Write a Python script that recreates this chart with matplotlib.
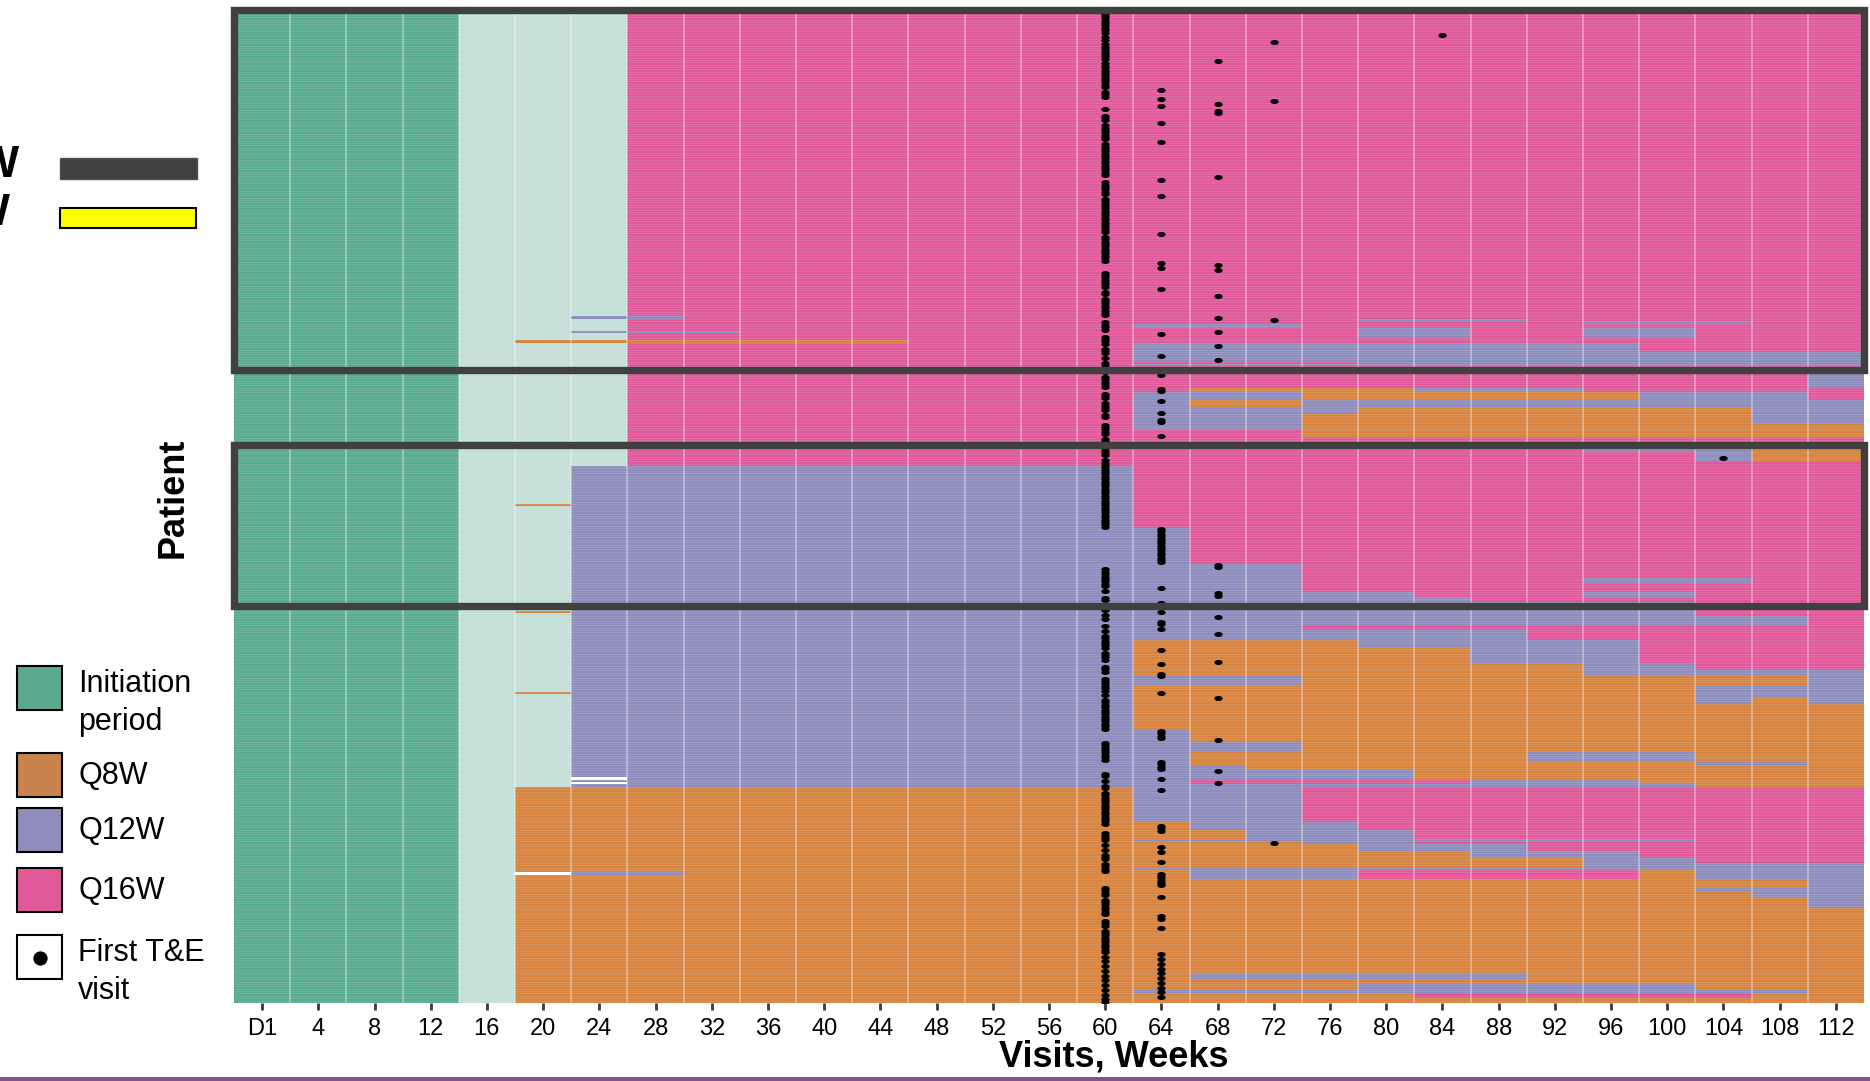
import numpy as np
import matplotlib.pyplot as plt
from matplotlib.colors import ListedColormap
from matplotlib.patches import Rectangle

plt.rcParams['font.family'] = ['Liberation Sans', 'DejaVu Sans']

week_labels = ['D1', '4', '8', '12', '16', '20', '24', '28', '32', '36', '40',
               '44', '48', '52', '56', '60', '64', '68', '72', '76', '80', '84',
               '88', '92', '96', '100', '104', '108', '112']

# I initiation, L loading, E Q8W, T Q12W, S Q16W, W no dose
code_of = {'I': 0, 'L': 1, 'E': 2, 'T': 3, 'S': 4, 'W': 5}
colors = ['#5AAB91', '#C3DFD7', '#D6843F', '#8D8DBD', '#E05A9B', '#FFFFFF']

# visits D1..wk60 by interval assigned at week 60
before = {'S': 'IIIILLLSSSSSSSSS',
          'T': 'IIIILLTTTTTTTTTT',
          'E': 'IIIILEEEEEEEEEEE'}

# patients per block and intervals from week 64 to 112
q16_n = [130, 1, 1, 2, 4, 2, 4, 4, 1, 1, 3, 6, 2, 3, 3, 3, 4, 3, 3, 2, 1, 3, 4, 2]
q16_after = ['SSSSSSSSSSSSS', 'SSSSTTTSSSSSS', 'SSSSSSSSTTTSS', 'TTTSSSSSSSSSS',
             'SSSSTTSSTTSSS', 'SSSSSSSSSSSSS', 'TTTTTTTTTSSSS', 'TTTTTTTTTTTTT',
             'SSSSTTTTTTTTT', 'TTTTTTTTTTTTT', 'SSSSSSSSSSSSS', 'SSSSSSSSSSSST',
             'SEEEETTTSSSSS', 'TTTEEEEEETTTS', 'TEETTTTTTTTTT', 'TTTTEEEEEEETT',
             'TTTEEEEEEEETT', 'TTTEEEEEEEEEE', 'SSSEEEEEEEEEE', 'SSSSSSSSSSSSS',
             'SSSESSSSSSSEE', 'SSSSSSSSTTTEE', 'SSSSSSSSSSTEE', 'SSSSSSSSSSSSS']

q12_n = [26, 15, 6, 2, 4, 2, 2, 6, 4, 2, 4, 3, 7, 3, 2, 4, 5, 3, 11, 5, 4, 4,
         2, 2, 4, 2, 1]
q12_after = ['SSSSSSSSSSSSS', 'TSSSSSSSSSSSS', 'TTTSSSSSSSSSS', 'TTTSSSSSTTTSS',
             'TTTSSSSSSSSSS', 'TTTTTSSSTTSSS', 'TTTTTTSSSSSSS', 'TTTTTTTTTTSSS',
             'TTTTTTTTTTTTS', 'TTTSSSSSSSSSS', 'TTTTTTTSSSSSS', 'EEEETTTTTSSSS',
             'EEEEEETTTSSSS', 'EEEEEEEETTSSS', 'EEEEEEEETTTTT', 'TTTEEEEEEEEET',
             'EEEEEEEEEETTT', 'EEEEEEEEEETET', 'EEEEEEEEEEEEE', 'TEEEEEEEEEEEE',
             'TTTEEEEEEEEEE', 'TEEEEEETTTEEE', 'TEEEEEEEEETTE', 'TTEEEEEEEEEEE',
             'TTTTTEEEEEEEE', 'TSSSSSTTTEEEE', 'TTTTTTTTTTEEE']

q8_n = [15, 3, 4, 1, 1, 3, 3, 2, 2, 1, 4, 3, 2, 3, 4, 28, 2, 2, 2, 2, 2, 2]
q8_after = ['TTTSSSSSSSSSS', 'ETTTSSSSSSSSS', 'EETTTSSSSSSSS', 'TTTTTTTTTTSSS',
            'EEETTSSSSSSSS', 'EEEETTTSSSSSS', 'EEEEEETTTSSSS', 'EEEEEEEETTSSS',
            'EEEEEEEETTTTT', 'TTTTTTTTTTTTT', 'ETTTSSSSSETTT', 'EEEEEEEEEEEET',
            'EEEEEEEEEETTT', 'EEEEEEEEEEETT', 'EEEEEEEEEEEET', 'EEEEEEEEEEEEE',
            'ETTTTTTEEEEEE', 'EEEEEEEEEEEEE', 'EEEETTTTTTEEE', 'TTTTTTTTTTTTE',
            'EEEEESSSSSSEE', 'EEEEEEEEEEEEE']

# single patients with a different early schedule: (patient, first visit, last visit, code)
early_changes = [(129, 6, 7, 'T'), (135, 6, 8, 'T'), (139, 5, 11, 'E'),
                 (208, 5, 5, 'E'), (253, 5, 5, 'E'), (287, 5, 5, 'E'),
                 (323, 6, 6, 'W'), (325, 6, 6, 'W'), (363, 5, 5, 'W'),
                 (363, 6, 7, 'T')]

# first T&E visit is week 60 (visit 15) unless listed here: (patient, visit)
first_te_other = [
    (10, 21), (13, 18), (21, 17), (33, 16), (37, 16), (38, 18), (39, 17), (40, 16),
    (42, 17), (43, 17), (47, 16), (55, 16), (70, 17), (71, 16), (78, 16), (94, 16),
    (106, 16), (107, 17), (108, 16), (109, 17), (117, 16), (120, 17), (129, 17),
    (130, 18), (135, 17), (136, 16), (141, 17), (145, 16), (147, 17), (153, 16),
    (159, 16), (160, 16), (164, 16), (169, 16), (172, 16), (173, 16), (179, 16),
    (188, 26),
    (218, 16), (219, 16), (220, 16), (221, 16), (222, 16), (223, 16), (224, 16),
    (225, 16), (226, 16), (227, 16), (228, 16), (229, 16), (230, 16), (231, 16),
    (232, 16), (233, 17), (234, 17), (243, 16), (245, 17), (246, 17), (249, 16),
    (253, 16), (255, 17), (257, 16), (258, 16), (260, 16), (262, 17), (269, 16),
    (274, 17), (275, 16), (279, 16), (280, 16), (287, 16), (289, 17), (303, 16),
    (304, 16), (305, 16), (306, 16), (307, 17), (316, 16), (317, 16), (318, 16),
    (319, 16), (320, 17), (323, 16), (325, 17),
    (328, 16), (343, 16), (344, 16), (345, 16), (350, 18), (352, 16), (354, 16),
    (358, 16), (363, 16), (364, 16), (365, 16), (366, 16), (367, 16), (368, 16),
    (373, 16), (381, 16), (382, 16), (386, 16), (397, 16), (399, 16), (401, 16),
    (403, 16), (405, 16), (407, 16), (409, 16), (411, 16), (413, 16), (415, 16)]

# highlighted patient ranges (top, bottom)
box_spans = [(0, 151.5), (183, 251)]

# ---- build patient x visit table
rows = []
for key, ns, afters in [('S', q16_n, q16_after), ('T', q12_n, q12_after),
                        ('E', q8_n, q8_after)]:
    for n, after in zip(ns, afters):
        assert len(after) == 13
        rows.extend([[code_of[ch] for ch in before[key] + after]] * n)
grid = np.array(rows)
for r, c0, c1, ch in early_changes:
    grid[r, c0:c1 + 1] = code_of[ch]
n_pat, n_vis = grid.shape

te_col = np.full(n_pat, 15)
for r, c in first_te_other:
    te_col[r] = c

fig = plt.figure(figsize=(18.7, 10.81), dpi=100)
bg = fig.add_axes([0, 0, 1, 1])
bg.set_xlim(0, 1870)
bg.set_ylim(1081, 0)
bg.axis('off')

ax = fig.add_axes([234 / 1870, 1 - 1003 / 1081, 1630 / 1870, 993 / 1081])
ax.imshow(grid, cmap=ListedColormap(colors), vmin=-0.5, vmax=5.5, aspect='auto',
          interpolation='nearest', extent=(-0.5, n_vis - 0.5, n_pat, 0))
ax.hlines(np.arange(1, n_pat), -0.5, n_vis - 0.5, colors='white', alpha=0.15,
          lw=0.5, zorder=2)
ax.vlines(np.arange(0.5, n_vis - 1), 0, n_pat, colors='white', alpha=0.4,
          lw=1.2, zorder=2)

t = np.linspace(0, 2 * np.pi, 40)
ellipse = np.column_stack([np.cos(t), 0.6 * np.sin(t)])
ax.scatter(te_col, np.arange(n_pat) + 0.5, marker=ellipse, s=36, c='black',
           linewidths=0, zorder=3)

for top, bottom in box_spans:
    ax.add_patch(Rectangle((-0.5, top), n_vis, bottom - top, fill=False,
                           ec='#404040', lw=5.3, clip_on=False, zorder=5))

ax.set_xlim(-0.5, n_vis - 0.5)
ax.set_ylim(n_pat, 0)
ax.set_xticks(range(n_vis))
ax.set_xticklabels(week_labels, fontsize=17)
ax.tick_params(axis='x', length=5, width=2, color='#3a3a3a', pad=6)
ax.set_yticks([])
for s in ax.spines.values():
    s.set_visible(False)

bg.text(1114, 1057, 'Visits, Weeks', ha='center', va='center', fontsize=26,
        fontweight='bold')
bg.text(173, 498, 'Patient', rotation=90, ha='center', va='center',
        fontsize=26, fontweight='bold')

# box legend (cut at the left edge, as in the source)
bg.add_patch(Rectangle((60, 158), 137, 21, fc='#404040', ec='#505050', lw=1))
bg.add_patch(Rectangle((60, 208), 136, 20, fc='#FFFF00', ec='black', lw=1.5))
bg.text(19, 177, 'Q16W', ha='right', va='baseline', fontsize=32, fontweight='bold')
bg.text(10, 225, 'Q12W', ha='right', va='baseline', fontsize=32, fontweight='bold')

# interval legend
legend_items = [('#5BAA90', 666, ['Initiation', 'period']),
                ('#C8834F', 753, ['Q8W']),
                ('#8F8EBA', 808, ['Q12W']),
                ('#E05A9A', 868, ['Q16W']),
                ('white', 935, ['First T&E', 'visit'])]
for fc, y0, lines in legend_items:
    bg.add_patch(Rectangle((17, y0), 45, 44, fc=fc, ec='black', lw=1.5))
    base = y0 + 31 if len(lines) == 1 else y0 + 26
    for k, line in enumerate(lines):
        bg.text(78, base + 38 * k, line, fontsize=22, va='baseline', ha='left')
bg.scatter([39.5], [958], s=105, c='black', marker='o', linewidths=0)

bg.plot([0, 1870], [1078.5, 1078.5], color='#85508F', lw=3.6)

fig.savefig('out.png', dpi=100)
